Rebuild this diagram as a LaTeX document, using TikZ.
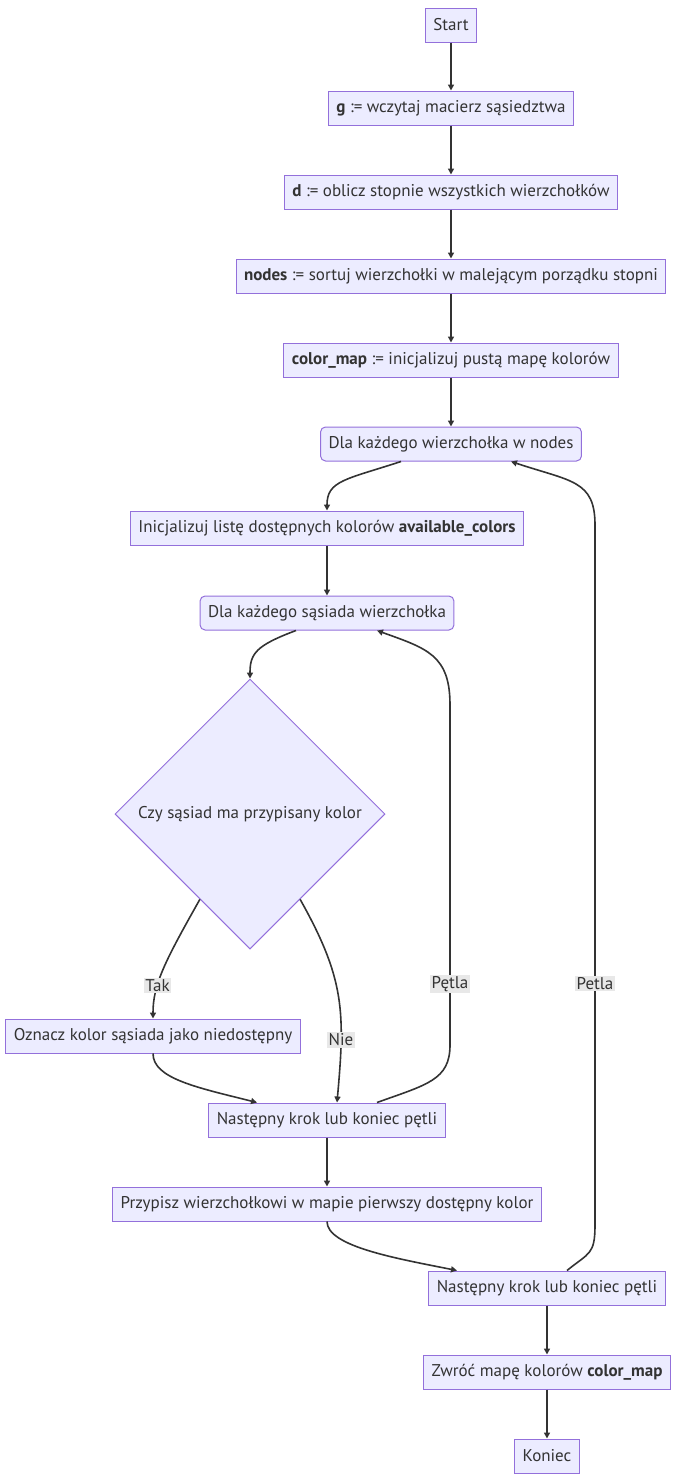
\documentclass[tikz,border=0pt]{standalone}
\usepackage{fontspec}
\setmainfont{PT Sans}
\usetikzlibrary{shapes.geometric,arrows.meta,calc}

\definecolor{boxfill}{HTML}{ECECFF}
\definecolor{boxline}{HTML}{9370DB}
\definecolor{edge}{HTML}{333333}
\definecolor{labelbg}{HTML}{E8E8E8}

\begin{document}
\begin{tikzpicture}[x=1pt,y=-1pt,
    every node/.style={font=\fontsize{17}{20}\selectfont,text=edge},
    krok/.style={rectangle,draw=boxline,fill=boxfill,line width=1pt,minimum height=34pt,inner xsep=8pt},
    petla/.style={krok,rounded corners=5pt},
    decyzja/.style={diamond,draw=boxline,fill=boxfill,line width=1pt,aspect=1,minimum width=270pt,minimum height=270pt,inner sep=0pt},
    etykieta/.style={fill=labelbg,inner sep=1.5pt},
    strzalka/.style={draw=edge,line width=1.6pt,-{Triangle[length=6pt,width=6pt]}}]

      \useasboundingbox (0,0) rectangle (679,1481);

      \node[krok] (start) at (451,25){Start};
      \node[krok] (wczyt) at (451,108){\textbf{g} := wczytaj macierz sąsiedztwa};
      \node[krok] (stop) at (451,192){\textbf{d} := oblicz stopnie wszystkich wierzchołków};
      \node[krok] (sort) at (451,276){\textbf{nodes} := sortuj wierzchołki w malejącym porządku stopni};
      \node[krok] (init) at (451,360){\textbf{color\_map} := inicjalizuj pustą mapę kolorów};
      \node[petla] (wierz) at (451,444){Dla każdego wierzchołka w nodes};
      \node[krok] (lista) at (327,528){Inicjalizuj listę dostępnych kolorów \textbf{available\_colors}};
      \node[petla] (sasiad) at (327,613){Dla każdego sąsiada wierzchołka};
      \node[decyzja] (czy) at (250,814){Czy sąsiad ma przypisany kolor};
      \node[krok] (oznacz) at (153,1036){Oznacz kolor sąsiada jako niedostępny};
      \node[krok] (nast) at (327,1120){Następny krok lub koniec pętli};
      \node[krok] (przyp) at (327,1204){Przypisz wierzchołkowi w mapie pierwszy dostępny kolor};
      \node[krok] (nast2) at (547,1288){Następny krok lub koniec pętli};
      \node[krok] (zwroc) at (547,1372){Zwróć mapę kolorów \textbf{color\_map}};
      \node[krok] (koniec) at (547,1456){Koniec};

      % punkty petli
      \coordinate (a1) at (450,1045);
      \coordinate (a2) at (450,705);
      \coordinate (b1) at (595,1225);
      \coordinate (b2) at (595,525);

      \draw[strzalka] (start) -- (wczyt);
      \draw[strzalka] (wczyt) -- (stop);
      \draw[strzalka] (stop) -- (sort);
      \draw[strzalka] (sort) -- (init);
      \draw[strzalka] (init) -- (wierz);
      \draw[strzalka] ($(wierz.south)+(-50,0)$) .. controls +(-55,18) and +(0,-30) .. (lista.north);
      \draw[strzalka] (lista) -- (sasiad);
      \draw[strzalka] ($(sasiad.south)+(-31,0)$) .. controls +(-40,15) and +(0,-25) .. (czy.north);

      \draw[strzalka] ($(czy.west)!0.63!(czy.south)$) .. controls +(-35,62) and +(0,-34) .. (oznacz.north)
        node[etykieta,pos=0.66]{Tak};
      \draw[strzalka] ($(czy.east)!0.63!(czy.south)$) .. controls +(45,80) and +(8,-90) .. ($(nast.north)+(10,0)$)
        node[etykieta,pos=0.73]{Nie};
      \draw[strzalka] (oznacz.south) .. controls +(0,25) and +(-60,-15) .. ($(nast.north)+(-70,0)$);
      \draw[strzalka] ($(nast.north)+(50,0)$) .. controls +(50,-18) and +(0,35) .. (a1)
        -- node[etykieta,pos=0.18]{Pętla} (a2) .. controls +(0,-50) and +(50,18) .. ($(sasiad.south)+(50,0)$);

      \draw[strzalka] (nast) -- (przyp);
      \draw[strzalka] (przyp.south) .. controls +(0,25) and +(-60,-12) .. ($(nast2.north)+(-90,0)$);
      \draw[strzalka] ($(nast2.north)+(20,0)$) .. controls +(22,-18) and +(0,30) .. (b1)
        -- node[etykieta,pos=0.345]{Petla} (b2) .. controls +(0,-45) and +(60,20) .. ($(wierz.south)+(60,0)$);
      \draw[strzalka] (nast2) -- (zwroc);
      \draw[strzalka] (zwroc) -- (koniec);

    \end{tikzpicture}
\end{document}
